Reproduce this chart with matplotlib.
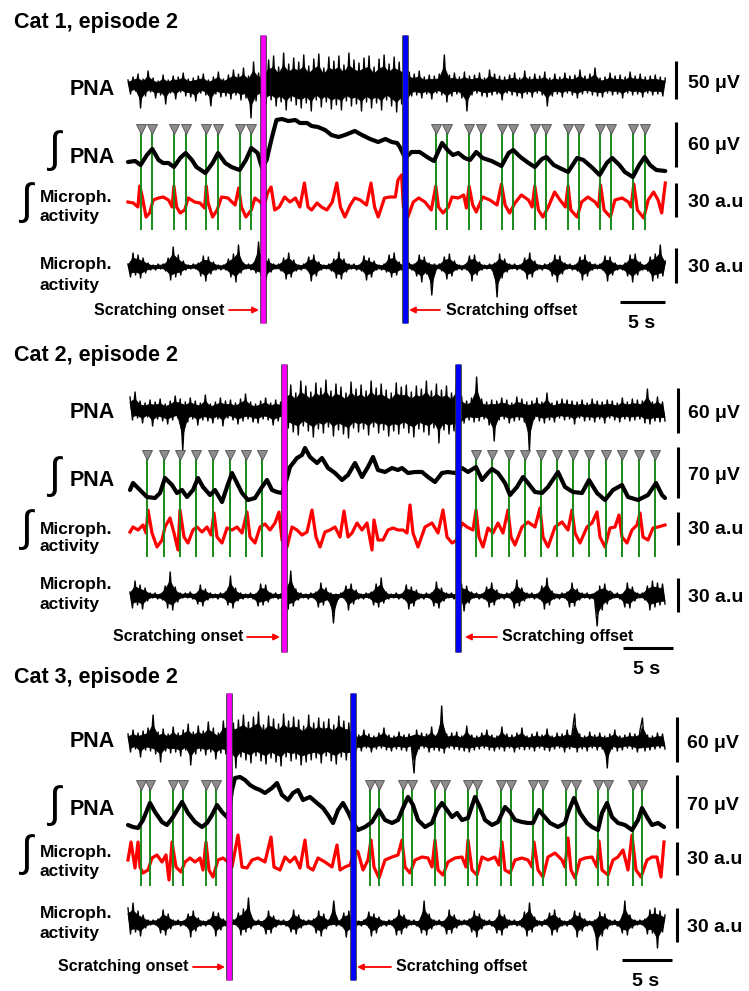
import matplotlib.pyplot as plt
import numpy as np
from matplotlib import patheffects as pe

plt.rcParams['font.family'] = ['Liberation Sans', 'DejaVu Sans']

W, H = 749, 991

titles = ['Cat 1, episode 2', 'Cat 2, episode 2', 'Cat 3, episode 2']
durations = [59.7, 53.5, 53.7]   # s, recording window shown
onsets = [15.0, 15.4, 10.1]      # s, scratching onset
offsets = [30.8, 32.8, 22.5]     # s, scratching offset
scale_labels = [['50 μV', '60 μV', '30 a.u', '30 a.u'],
                ['60 μV', '70 μV', '30 a.u', '30 a.u'],
                ['60 μV', '70 μV', '30 a.u', '30 a.u']]

# inspiratory burst markers (s)
marks1 = [1.4, 2.7, 5.1, 6.4, 8.7, 10.0, 12.4, 13.7, 34.2, 35.5, 37.9, 39.2, 41.6,
          42.8, 45.2, 46.5, 48.9, 50.1, 52.4, 53.7, 56.1, 57.4]
marks2 = [1.7, 3.4, 5.0, 6.6, 8.3, 10.0, 11.6, 13.2, 34.6, 36.2, 37.9, 39.5, 41.1,
          42.7, 44.3, 45.9, 47.6, 49.2, 50.9, 52.5]
marks3 = [1.3, 2.2, 4.5, 5.5, 7.8, 8.8, 24.2, 25.1, 27.5, 28.4, 30.7, 31.7, 34.0,
          34.9, 37.3, 38.3, 40.5, 41.5, 43.8, 44.8, 47.0, 48.0, 50.5, 51.4]

# raw PNA, decimated min/max samples (display units)
pna1 = [6, -8, 9, -5, 12, -22, 7, -10, 15, -6, 8, -12, 5, -9, 11, -18, 6, -7, 10, -13,
        9, -6, 13, -10, 7, -11, 8, -15, 10, -7, 12, -9, 6, -20, 9, -8, 14, -11, 7, -10,
        11, -13, 16, -9, 12, -14, 18, -12, 10, -32, 24, -15, 13, -11, 17,
        -18, 26, -14, 30, -20, 19, -16, 33, -24, 22, -15, 28, -19, 24, -22, 31, -17, 20, -25, 27,
        -14, 32, -21, 18, -16, 29, -23, 25, -19, 30, -24, 21, -15, 33, -20, 26, -18, 23, -25, 28,
        -16, 30, -22, 19, -17, 27, -24, 31, -14, 22, -20, 29, -26, 24, -18, 21,
        -22, 14, -10, 12, -9, 15, -12, 9, -8, 11, -13, 10, -7, 12, -9, 31, -16, 11, -10, 13,
        -8, 9, -12, 14, -25, 10, -9, 11, -7, 13, -10, 8, -11, 16, -9, 12, -8, 10, -14, 9,
        -7, 11, -9, 13, -10, 8, -12, 15, -8, 9, -11, 12, -7, 10, -9, 14, -20, 8, -10, 12,
        -8, 9, -11, 13, -7, 10, -9, 11, -12, 16, -8, 10, -7, 12, -9, 18, -10, 8, -11, 9,
        -7, 13, -9, 10, -8, 11, -12, 9, -7, 14, -9, 10, -8, 12, -11, 9, -7, 10, -9, 11,
        -8, 9, -10, 8]
pna2 = [14, -9, 19, -7, 10, -12, 8, -6, 11, -15, 9, -8, 12, -10, 7, -13, 10, -9, 15, -7,
        12, -40, 9, -11, 13, -8, 10, -14, 8, -9, 16, -10, 7, -12, 9, -8, 13, -15, 10, -7,
        11, -9, 8, -13, 12, -10, 17, -8, 9, -11, 7, -12, 10, -8, 13, -9, 8, -14, 11, -10,
        9, -8,
        22, -17, 26, -21, 18, -24, 30, -15, 25, -20, 19, -26, 28, -18, 23, -22, 31, -16, 20, -25,
        27, -19, 24, -23, 18, -27, 29, -17, 22, -21, 26, -18, 20, -24, 30, -16, 23, -22, 27, -19,
        21, -25, 18, -20, 28, -23, 24, -17, 26, -22, 19, -26, 25, -18, 22, -21, 30, -24, 20, -17,
        27, -32, 21, -19, 25, -23, 18, -20, 29, -22,
        15, -12, 10, -9, 13, -11, 34, -10, 12, -8, 9, -14, 11, -30, 10, -9, 13, -8, 11, -12,
        8, -10, 14, -9, 12, -11, 9, -40, 10, -8, 13, -10, 9, -12, 18, -9, 8, -11, 10, -7,
        12, -9, 11, -8, 10, -13, 9, -7, 11, -10, 8, -9, 12, -11, 10, -8, 9, -12, 11, -7,
        10, -9, 8, -11, 13, -8, 9, -10, 12, -9, 11, -8, 10, -12, 22, -13, 9, -10, 14, -11,
        9, -10]
pna3 = [8, -10, 12, -7, 9, -15, 11, -8, 14, -9, 27, -12, 10, -20, 13, -9, 8, -11, 15, -10,
        9, -14, 12, -8, 18, -23, 10, -12, 16, -9, 11, -13, 20, -10, 14, -17, 9, -11, 21, -12,
        24, -16, 19, -26, 22, -15, 27, -18, 20, -21, 25, -14, 30, -19, 17, -22, 26, -16, 23, -20,
        18, -24, 28, -15, 21, -19, 25, -17, 22, -23, 16, -20, 27, -18, 19, -16, 24, -21, 20, -14,
        23, -19, 17, -22, 26, -15, 21, -18, 19, -16,
        10, -8, 7, -9, 12, -6, 8, -10, 6, -7, 9, -6, 14, -8, 7, -9, 6, -7, 10, -8,
        7, -9, 8, -6, -31, 12, -7, 9, -6, 8, -10, 15, -8, 7, -9, 36, -11, 8, -6, 9,
        -7, 10, -8, 6, -9, 16, -10, 7, -8, 6, -7, 9, -6, 12, -8, 7, -9, 6, -7, 15,
        -9, 8, -6, 7, -10, 9, -7, 14, -8, 6, -7, 8, -9, 10, -6, 7, -8, 13, -9, 6,
        -7, 9, -6, 8, -10, 12, -7, 9, 28, -10, 8, -7, 6, -9, 10, -6, 7, -8, 9, -7,
        6, -26, 8, -7, 12, -9, 6, -8, 7, -6, 9, -7, 8, -10, 11, 24, -9, 7, -8, 6,
        -7, 9, -6, 8, -7]

# raw microphone activity, decimated min/max samples (display units)
mic1 = [3, -10, 14, -8, 12, -11, 9, -6, 4, -3, 2, -3, 3,
        -2, 3, -4, 9, -13, 20, -10, 12, -8, 6, -3, 2, -2,
        3, -2, 4, -9, 11, -14, 10, -7, 5, -3, 2, -3, 2,
        -3, 8, -10, 13, -15, 22, -6, 4, -2, 3, -3, 4, -6,
        25, -9, 11, -13, 8, -5, 3, -2, 3, -4, 9, -12, 14,
        -10, 7, -4, 2, -3, 3, -2, 10, -14, 12, -9, 5, -3,
        2, -2, 3, -4, 8, -11, 15, -12, 8, -5, 3, -2, 3,
        -3, 2, -4, 11, -13, 9, -10, 6, -3, 2, -3, 3, -5,
        12, -10, 14, -8, 5, -3, 2, -2, 4, -3, 3, -9, 12,
        -15, 10, -7, 4, -28, 3, -2, 3, -4, 10, -12, 13, -9,
        6, -3, 2, -3, 2, -3, 11, -14, 12, -8, 5, -3, 2,
        -2, 3, -3, 4, -30, 13, -11, 8, -5, 3, -2, 3, -3,
        2, -3, 9, -12, 14, -10, 6, -3, 2, -3, 3, -2, 4,
        -9, 12, -15, 11, -7, 4, -2, 3, -3, 2, -4, 10, -13,
        12, -9, 5, -3, 3, -2, 3, -3, 11, -14, 10, -8, 4,
        -3, 2, -3, 4, -9, 12, -15, 13, -8, 5, -3, 2, -4,
        10, -14, 13, -11, 22, -9, 6]
mic2 = [4, -12, 15, -9, 11, -13, 8, -5, 3, -2, 3, -3,
        2, -4, 10, -12, 24, -14, 9, -6, 3, -2, 3, -2,
        4, -3, 2, -8, 11, -10, 7, -4, 3, -2, 2, -3,
        3, -2, 4, -9, 20, -12, 8, -5, 3, -3, 2, -2,
        3, -3, 2, -10, 12, -9, 11, -6, 3, -2, 3, -3,
        2, -4, 9, -13, 25, -10, 7, -4, 3, -2, 2, -3,
        3, -2, 4, -11, 13, -9, 8, -5, 3, -27, 2, -3,
        3, -2, 10, -14, 12, -8, 6, -3, 2, -3, 3, -2,
        4, -9, 12, -11, 18, -7, 4, -3, 2, -2, 3, -3,
        2, -3, 11, -13, 9, -10, 6, -3, 2, -3, 3, -2,
        3, -10, 14, -12, 8, -5, 3, -2, 3, -3, 2, -4,
        12, -15, 10, -7, 4, -2, 3, -3, 2, -3, 9, -11,
        13, -9, 6, -3, 2, -3, 3, -2, 4, -12, 16, -10,
        8, -5, 3, -2, 3, -3, 2, -3, 10, -13, 18, -9,
        5, -3, 2, -3, 3, -2, 4, -11, 13, -10, 7, -4,
        3, -2, 3, -3, 2, -4, -30, 10, -14, 12, -8, 5,
        3, -2, 3, -3, 2, -11, 13, -12, 9, -5, 3, -2,
        3, -4, 10, -14, 15, -11, 13, -9, 12, -8]
mic3 = [15, -11, 20, -9, 12, -13, 8, -5, 3, -2, 3, -2, 4,
        -10, 13, -12, 9, -6, 3, -2, 3, -3, 2, -3, 9, -14,
        12, -8, 5, -3, 2, -3, 3, -2, 11, -13, 10, -7, 4,
        -3, 2, -3, 3, -2, 10, -12, 14, -9, 25, -6, 3, -2,
        3, -3, 2, -11, 12, -10, 7, -4, 3, -2, 3, -3, 2,
        -9, 13, -11, 8, -5, 3, -2, 3, -2, 4, -10, 12, -13,
        9, -6, 3, -2, 22, -3, 2, -3, 10, -14, 12, -8, 5,
        -3, 2, -3, 3, -2, 11, -13, 9, -10, 6, -3, 2, -3,
        3, -2, 4, -12, 13, -11, 8, -5, 3, -2, 3, -3, 2,
        -10, 22, -12, 9, -6, 3, -2, 3, -3, 2, -11, 13, -10,
        8, -5, 3, -2, 3, -2, 4, -9, 12, -14, 9, -6, 3,
        -2, 3, -3, 2, -10, 13, -12, 8, -5, 3, -2, 3, -3,
        2, -4, 11, -13, 20, -9, 6, -3, 2, -3, 3, -2, 10,
        -12, 13, -9, 5, -3, 2, -3, 3, -2, 12, -14, 10, -8,
        4, -3, 2, -3, 3, -27, 11, -13, 9, -6, 3, -2, 3,
        -3, 2, -10, 22, -12, 8, -5, 3, -2, 3, -2, 4, -11,
        13, -10, 15, -25, 12, -9, 8]

# integrated PNA: time (s) and value (display units)
ipna1_t = [0.0, 0.8, 1.4, 2.1, 2.7, 3.4, 3.9, 4.5, 5.1, 5.8, 6.4, 7.1, 7.6, 8.6, 9.4, 10.0,
           10.8, 11.5, 12.4, 13.1, 13.7, 14.4, 14.9, 15.4, 16.0, 16.5, 17.1, 17.8, 18.6,
           19.1, 19.9, 20.4, 21.1, 21.9, 22.6, 23.4, 24.1, 25.2, 26.0, 26.9, 27.8, 28.6,
           29.3, 29.9, 30.2, 30.8, 31.5, 32.4, 33.4, 34.0, 34.9, 35.5, 36.1, 36.7, 37.4,
           38.0, 38.7, 39.4, 40.4, 41.5, 42.3, 42.8, 43.6, 44.5, 45.2, 46.0, 46.5, 47.3,
           48.2, 48.9, 49.9, 50.6, 51.5, 52.4, 53.2, 53.8, 54.6, 55.2, 56.1, 56.8, 57.4,
           58.0, 58.7, 59.7]
ipna1 = [-2, -1, -5, 5, 11, 0, -3, -3, -7, 2, 7, 0, -7, -13, -3, 7, -3, -7, -10, 0, 12, 7,
         -8, 0, 23, 40, 41, 39, 40, 37, 37, 34, 33, 30, 25, 23, 25, 29, 25, 21, 18, 21, 18,
         17, 13, 2, 8, 8, 2, -1, 17, 10, 5, 7, 2, 0, 8, 2, -1, -6, 7, 10, 3, -3, -7, 1, 3,
         -5, -9, -12, 2, 0, -7, -15, -3, 2, -5, -12, -17, -5, 3, -5, -10, -11]
ipna2_t = [0.0, 0.3, 1.0, 1.7, 2.5, 3.0, 3.5, 4.2, 4.7, 5.2, 5.7, 6.3, 6.8, 7.3, 8.0, 8.5,
           9.2, 9.7, 10.2, 10.7, 11.2, 11.8, 12.5, 13.2, 13.7, 14.2, 14.7, 15.2, 15.5, 16.0,
           16.7, 17.2, 17.5, 18.0, 18.7, 19.2, 19.8, 20.5, 21.2, 21.8, 22.5, 23.2, 23.8,
           24.3, 24.8, 25.5, 26.2, 26.8, 27.2, 27.8, 28.5, 29.2, 29.8, 30.5, 31.2, 31.8,
           32.5, 33.2, 33.8, 34.6, 35.2, 35.8, 36.2, 36.8, 37.5, 38.0, 38.7, 39.3, 39.8,
           40.5, 41.2, 41.8, 42.8, 43.5, 44.3, 45.2, 45.9, 46.7, 47.5, 48.3, 49.2, 49.8,
           50.8, 51.8, 52.6, 53.2, 53.5]
ipna2 = [0, 7, 0, -7, -8, -3, 12, 5, -3, 0, -7, 0, 12, 3, -5, 0, -12, 3, 17, 7, -3, -10, -8,
         3, 10, 0, -2, -3, 5, 23, 32, 35, 42, 33, 27, 32, 22, 17, 10, 15, 27, 13, 23, 33, 20,
         18, 22, 20, 22, 17, 18, 18, 13, 8, 17, 18, 17, 22, 18, 23, 10, 17, 21, 17, 7, -5, 3,
         13, 7, -2, -3, 3, 18, 3, -2, -3, 10, -3, -10, 0, 5, -7, -10, -5, 7, -5, -8]
ipna3_t = [0.0, 0.5, 1.0, 1.5, 2.2, 2.7, 3.4, 3.9, 4.5, 5.4, 6.0, 6.7, 7.4, 7.9, 8.4, 8.9,
           9.4, 10.0, 10.4, 10.7, 11.2, 11.7, 12.2, 12.7, 13.2, 13.7, 14.4, 14.9, 15.4, 16.0,
           16.5, 17.0, 17.5, 18.2, 18.9, 19.5, 20.0, 20.5, 21.0, 21.5, 22.0, 22.5, 23.0,
           23.7, 24.4, 25.1, 25.7, 26.4, 27.0, 27.5, 28.0, 28.5, 29.0, 29.7, 30.4, 30.9,
           31.4, 31.9, 32.4, 32.9, 33.4, 34.0, 34.7, 35.2, 35.7, 36.4, 37.0, 37.7, 38.2,
           38.7, 39.4, 40.0, 40.5, 41.1, 41.5, 42.2, 43.0, 43.7, 44.0, 44.6, 45.2, 45.9,
           46.4, 47.0, 47.4, 47.9, 48.4, 49.0, 49.7, 50.4, 51.0, 51.4, 51.9, 52.4, 53.0, 53.6]
ipna3 = [-10, -12, -13, -5, 12, 3, -7, -10, -2, 13, 2, -7, -12, -8, 0, 10, 3, -3, 25, 37,
         38, 35, 30, 27, 25, 22, 27, 32, 20, 15, 22, 25, 15, 18, 12, 7, 0, -8, 5, 12,
         3, -8, -15, -12, -7, 5, -5, -8, -5, 7, 18, 10, -5, -12, -8, 5, 12, 5, -2, 2,
         -5, -3, 18, 8, -5, -10, -7, 8, 3, -5, -7, -8, -8, 5, 0, -8, -12, -8, 2, 17,
         2, -8, -12, -15, 2, 12, -2, -8, -10, -15, -5, 7, -2, -10, -8, -12]

# integrated microphone activity: time (s) and value (display units)
imic1_t = [0.0, 0.6, 1.1, 1.3, 1.6, 2.0, 2.4, 2.8, 3.4, 3.9, 4.5, 4.9, 5.1, 5.4, 5.8, 6.3,
           6.7, 7.4, 8.0, 8.5, 8.7, 8.9, 9.4, 9.9, 10.4, 11.1, 11.9, 12.3, 12.6, 13.1, 13.7,
           14.1, 14.7, 15.1, 15.5, 15.9, 16.3, 16.8, 17.4, 18.0, 18.6, 19.1, 19.6, 20.0,
           20.4, 21.0, 21.5, 22.1, 22.7, 23.2, 23.6, 24.1, 24.7, 25.2, 25.8, 26.5, 27.0,
           27.4, 27.8, 28.5, 29.1, 29.7, 30.0, 30.4, 30.6, 31.1, 31.7, 32.3, 33.0, 33.7,
           34.2, 34.5, 35.0, 35.6, 36.0, 36.7, 37.3, 37.6, 37.9, 38.3, 38.7, 39.4, 40.2,
           41.0, 41.5, 41.9, 42.4, 43.0, 43.7, 44.5, 44.9, 45.2, 45.6, 46.1, 46.7, 47.4,
           48.0, 48.6, 48.9, 49.2, 49.9, 50.4, 51.1, 51.9, 52.3, 52.5, 52.9, 53.6, 54.1,
           54.9, 55.6, 55.9, 56.2, 56.6, 57.3, 57.8, 58.4, 58.9, 59.3, 59.7]
imic1 = [-2, -3, -7, 14, 3, -17, -13, 0, 2, 3, 0, -7, 14, -7, -13, -10, 2, -2, -3, -8,
         14, -3, -17, -10, 3, 2, -5, 12, -7, -17, -10, 2, -2, -7, 7, 13, -10, -7, 3, -2,
         2, -7, 17, -7, -10, -3, -7, -10, -2, 17, -7, -17, -5, 2, 0, -5, 17, -7, -17, 2,
         3, 3, 20, 25, -7, -17, -2, 2, -2, -10, 14, -7, -13, -7, 3, 2, 5, -8, 14, -5,
         -12, 3, 0, -5, 16, -5, -13, -3, 5, 0, -7, 14, -10, -17, -7, 8, 0, -7, 14, -10,
         -17, -2, 3, -2, -7, 15, -10, -17, 0, 2, -2, -7, 16, -10, -18, 0, 8, 0, -13, 17]
imic2_t = [0.0, 0.3, 0.8, 1.3, 1.6, 1.8, 2.2, 2.7, 3.2, 3.5, 4.0, 4.4, 4.8, 5.0, 5.4, 5.8,
           6.3, 6.7, 7.2, 7.7, 8.1, 8.4, 8.7, 9.2, 9.7, 10.2, 10.7, 11.2, 11.7, 12.0, 12.5,
           13.0, 13.5, 14.0, 14.5, 14.9, 15.2, 15.7, 16.2, 16.7, 17.2, 17.7, 18.2, 18.6,
           19.0, 19.5, 20.0, 20.5, 21.0, 21.4, 21.8, 22.2, 22.7, 23.2, 23.7, 24.2, 24.4,
           24.8, 25.3, 25.8, 26.3, 26.8, 27.3, 27.7, 28.0, 28.3, 28.8, 29.5, 30.2, 30.8,
           31.3, 31.7, 32.2, 32.7, 33.2, 33.7, 34.3, 34.6, 34.9, 35.3, 35.8, 36.3, 36.8,
           37.3, 37.8, 38.1, 38.5, 39.2, 39.8, 40.5, 41.0, 41.3, 41.8, 42.5, 43.2, 43.8,
           44.2, 44.5, 45.0, 45.7, 46.2, 46.7, 47.0, 47.5, 48.0, 48.5, 48.9, 49.2, 49.7,
           50.2, 50.7, 51.0, 51.3, 51.8, 52.3, 52.8, 53.5]
imic2 = [0, 5, 2, 7, -1, 22, -1, -15, -8, 5, 14, -1, -18, 22, -5, -11, 2, 5, 0, 5,
         -3, 19, -5, -11, 4, 2, 5, -1, 20, -5, -11, 5, 8, 2, 9, 20, -8, -15, 5, 2,
         -3, 0, 22, -5, -15, 0, 2, 5, -5, 21, -5, -1, 9, 2, 9, -18, 12, -8, -8, 2,
         4, 2, 2, -1, 27, -1, -15, 5, 9, -1, 22, -5, -11, -8, 9, 5, 2, 22, -5, -15,
         4, -1, 9, -1, 22, -5, -13, 5, 10, 5, 24, -5, -15, 5, 10, 2, 22, -1, -11, 5,
         9, 20, -5, -15, 4, 5, 17, -5, -11, 2, 7, 19, -5, -8, 4, 5, 7]
imic3_t = [0.0, 0.3, 0.7, 1.0, 1.2, 1.5, 2.0, 2.4, 2.9, 3.4, 3.8, 4.1, 4.4, 4.8, 5.3, 5.7,
           6.2, 6.7, 7.2, 7.5, 7.8, 8.1, 8.5, 9.0, 9.5, 10.0, 10.4, 11.0, 11.4, 11.9, 12.4,
           13.0, 13.7, 14.3, 14.6, 15.2, 15.7, 16.2, 16.7, 17.2, 17.7, 18.0, 18.5, 19.0,
           19.7, 20.4, 20.9, 21.2, 21.7, 22.2, 22.7, 23.0, 23.5, 24.0, 24.3, 24.6, 25.1,
           25.7, 26.4, 27.0, 27.4, 27.7, 28.2, 28.7, 29.4, 30.0, 30.4, 30.7, 31.0, 31.5,
           32.0, 32.7, 33.4, 33.8, 34.0, 34.4, 34.9, 35.4, 36.0, 36.7, 37.1, 37.4, 37.7,
           38.2, 38.7, 39.4, 40.0, 40.4, 40.6, 41.0, 41.5, 42.0, 42.7, 43.4, 43.7, 44.0,
           44.3, 44.7, 45.2, 45.7, 46.4, 46.9, 47.1, 47.4, 48.0, 48.5, 49.0, 49.5, 50.0,
           50.4, 50.8, 51.3, 51.9, 52.4, 52.9, 53.3, 53.6]
imic3 = [2, 20, -6, 20, -5, -11, -8, 4, 7, 0, 7, -18, 20, -5, -10, 0, 4, 0, 4, -8,
         20, -8, -15, 2, 4, 0, -5, 27, -5, -6, 2, 4, 0, 25, -5, -8, 5, 0, 5, -6,
         22, -5, -8, 4, 0, -5, 17, -8, -5, -3, 12, 10, -8, 2, 22, -5, -16, 2, 5, 7,
         22, -5, -11, 2, 5, 4, -5, 22, -8, -13, 0, 4, 5, -5, 22, -8, -13, 5, 2, 5,
         -3, 20, -8, -11, 2, 4, 2, -5, 20, -8, -15, 5, 9, 2, -5, 24, -8, -16, 2, 4,
         5, -5, 21, -8, -13, 2, 5, 12, -8, 27, -8, -15, 2, 5, 5, -15, 20]

pna_all = [pna1, pna2, pna3]
mic_all = [mic1, mic2, mic3]
ipna_all = [(ipna1_t, ipna1), (ipna2_t, ipna2), (ipna3_t, ipna3)]
imic_all = [(imic1_t, imic1), (imic2_t, imic2), (imic3_t, imic3)]
marks_all = [marks1, marks2, marks3]

# page layout in picture pixels
layout = [
    dict(top=0, bot=331, x0=128, pps=9.0, base=(86, 160, 200, 267), tri=129, gbot=230,
         ev=(35, 323), title=28, pna=95, ipna=163, int_pna=151, int_mic=203,
         mic_int=(202, 221), mic=(269, 290), bar_x=676, lab_x=688,
         bars=[(61, 99), (122, 167), (183, 217), (248, 283)], labs=[83, 146, 202, 267],
         sb=(665, 302), sb_lab=(642, 324), scr=310, on_txt=224, on_arr=(229, 259),
         off_arr=(440, 409), off_txt=446),
    dict(top=331, bot=662, x0=130, pps=10.0, base=(411, 490, 532, 596), tri=455, gbot=557,
         ev=(364, 652), title=361, pna=418, ipna=486, int_pna=477, int_mic=530,
         mic_int=(534, 551), mic=(589, 609), bar_x=678, lab_x=688,
         bars=[(388, 433), (447, 498), (512, 545), (578, 612)], labs=[413, 475, 530, 597],
         sb=(673, 648), sb_lab=(647, 670), scr=637, on_txt=243, on_arr=(247, 280),
         off_arr=(497, 465), off_txt=502),
    dict(top=662, bot=991, x0=128, pps=10.0, base=(742, 815, 862, 923), tri=785, gbot=886,
         ev=(693, 980), title=683, pna=747, ipna=815, int_pna=806, int_mic=855,
         mic_int=(857, 876), mic=(918, 938), bar_x=677, lab_x=687,
         bars=[(717, 762), (775, 828), (842, 875), (908, 942)], labs=[743, 805, 860, 927],
         sb=(672, 960), sb_lab=(646, 981), scr=967, on_txt=188, on_arr=(193, 225),
         off_arr=(391, 357), off_txt=396),
]

fig = plt.figure(figsize=(W / 100, H / 100), dpi=100)


def ftext(x, y, s, **kw):
    kw.setdefault('fontweight', 'bold')
    fig.text(x / W, 1 - y / H, s, **kw)


def raw_trace(ax, dur, vals, base):
    # dense recording: solid core where the signal spends most time, plus the
    # sample path reaching out to each extreme
    v = np.array(vals, dtype=float)
    t = np.linspace(0, dur, len(v))
    up, lo = v > 0, v < 0
    core = 0.62 * v
    ax.fill(np.r_[t[up], t[lo][::-1]], base - np.r_[core[up], core[lo][::-1]],
            color='black', lw=0.6, zorder=2)
    ax.plot(t, base - v, color='black', lw=1.0, zorder=2)


for k, L in enumerate(layout):
    ax = fig.add_axes([0, 1 - L['bot'] / H, 1, (L['bot'] - L['top']) / H])
    x0, pps = L['x0'], L['pps']
    ax.set_xlim(-x0 / pps, (W - x0) / pps)
    ax.set_ylim(L['bot'], L['top'])
    ax.axis('off')

    def tx(x):
        return (x - x0) / pps

    b_pna, b_ipna, b_imic, b_mic = L['base']
    dur = durations[k]

    # raw traces
    raw_trace(ax, dur, pna_all[k], b_pna)
    raw_trace(ax, dur, mic_all[k], b_mic)

    # integrated traces
    tt, vv = imic_all[k]
    ax.plot(tt, b_imic - np.array(vv), color='#ff0000', lw=2.3, zorder=2,
            solid_joinstyle='round')
    tt, vv = ipna_all[k]
    ax.plot(tt, b_ipna - np.array(vv), color='black', lw=3.0, zorder=5,
            solid_joinstyle='round', solid_capstyle='round')

    # burst markers
    m = marks_all[k]
    ax.vlines(m, L['tri'], L['gbot'], color='#1b8a1b', lw=1.4, zorder=3)
    ax.plot(m, [L['tri']] * len(m), 'v', ms=6.5, mfc='#8c8c8c', mec='#505050',
            mew=0.6, zorder=6)

    # scratching onset / offset
    for te, col in [(onsets[k], '#ff00ff'), (offsets[k], '#0000ff')]:
        ax.plot([te, te], L['ev'], color=col, lw=3.4, solid_capstyle='butt', zorder=10,
                path_effects=[pe.Stroke(linewidth=4.8, foreground='#333333'), pe.Normal()])

    # amplitude scale bars
    for (y0, y1), ly, lab in zip(L['bars'], L['labs'], scale_labels[k]):
        ax.plot([tx(L['bar_x'])] * 2, [y0, y1], color='black', lw=2.2,
                solid_capstyle='butt')
        ftext(L['lab_x'], ly, lab, fontsize=14, va='center', ha='left')

    # time scale bar
    t_end = tx(L['sb'][0])
    ax.plot([t_end - 5, t_end], [L['sb'][1]] * 2, color='black', lw=2.2,
            solid_capstyle='butt')
    ftext(L['sb_lab'][0], L['sb_lab'][1], '5 s', fontsize=14, va='center', ha='center')

    # scratching arrows and labels
    y = L['scr']
    for tail, head in [L['on_arr'], L['off_arr']]:
        ax.annotate('', xy=(tx(head), y), xytext=(tx(tail), y),
                    arrowprops=dict(arrowstyle='-|>', color='#ff0000', lw=1.3,
                                    mutation_scale=9, shrinkA=0, shrinkB=0))
    ftext(L['on_txt'], y, 'Scratching onset', fontsize=11.5, va='center', ha='right')
    ftext(L['off_txt'], y, 'Scratching offset', fontsize=11.5, va='center', ha='left')

    # titles and row labels
    ftext(14, L['title'], titles[k], fontsize=15.5, va='baseline', ha='left')
    ftext(115, L['pna'], 'PNA', fontsize=15.5, va='baseline', ha='right')
    ftext(115, L['ipna'], 'PNA', fontsize=15.5, va='baseline', ha='right')
    ftext(54, L['int_pna'], '∫', fontsize=31, va='center', ha='center',
          fontweight='normal')
    ftext(26, L['int_mic'], '∫', fontsize=31, va='center', ha='center',
          fontweight='normal')
    ftext(40, L['mic_int'][0], 'Microph.', fontsize=12.5, va='baseline', ha='left')
    ftext(40, L['mic_int'][1], 'activity', fontsize=12.5, va='baseline', ha='left')
    ftext(40, L['mic'][0], 'Microph.', fontsize=12.5, va='baseline', ha='left')
    ftext(40, L['mic'][1], 'activity', fontsize=12.5, va='baseline', ha='left')

fig.savefig('out.png', dpi=100)
